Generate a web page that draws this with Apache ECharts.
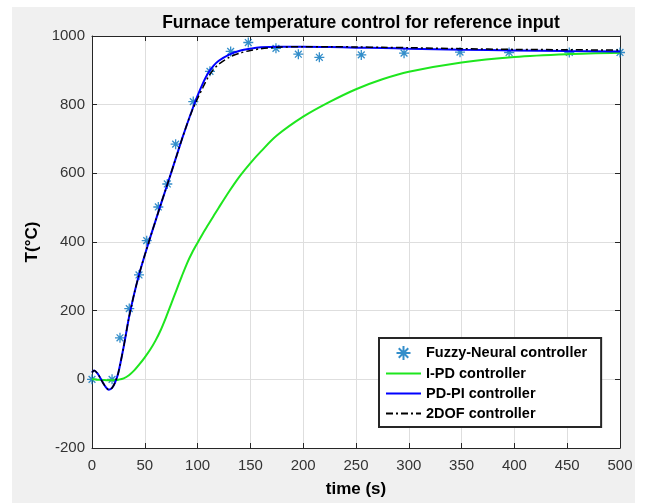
<!DOCTYPE html>
<html>
<head>
<meta charset="utf-8">
<script src="https://cdn.jsdelivr.net/npm/echarts@6/dist/echarts.min.js"></script>
<style>
  html, body { margin: 0; padding: 0; background: #fff; }
  #wrap { position: relative; width: 645px; height: 503px; }
  #panel { position: absolute; left: 12px; top: 7px; width: 623px; height: 496px; background: #f0f0f0; }
  #chart { position: absolute; left: 0; top: 0; width: 645px; height: 503px; }
</style>
</head>
<body>
<div id="wrap">
  <div id="panel"></div>
  <div id="chart"></div>
</div>
<script>
// time axis ticks
const xTicks = [0, 50, 100, 150, 200, 250, 300, 350, 400, 450, 500];
const yTicks = [-200, 0, 200, 400, 600, 800, 1000];

// Fuzzy-Neural controller (asterisks)
const fnTime = [0, 19, 26.5, 35.3, 44.5, 51.8, 62.8, 71.3, 79.2, 95.9, 111.7, 131.3, 148, 174.2, 195.4, 215.3, 255, 295.5, 348.5, 395, 452, 500];
const fnTemp = [0, 0, 121, 206, 304, 404, 502, 569, 685, 809, 897, 955, 981, 964, 947, 938, 945, 950, 953, 952, 952, 952];

// time base for the three continuous responses
const t = [0, 2, 5, 8, 12, 16, 19, 22, 25, 30, 35, 40, 45, 50, 55, 60, 65, 70, 75, 80, 85, 90, 95, 100,
  105, 110, 115, 120, 130, 140, 150, 160, 175, 200, 225, 250, 275, 300, 350, 400, 450, 500];

const ipd = [0, 0, -1, -1, -2, -3, -3, -2, -1, 3, 12, 26, 44, 64, 86, 112, 143, 180, 220, 260, 300, 338, 370, 398,
  425, 450, 475, 500, 548, 592, 630, 664, 710, 765, 808, 845, 874, 896, 923, 939, 947, 951];

const pdpi = [20, 26, 18, 3, -18, -30, -25, -8, 20, 95, 180, 250, 310, 362, 412, 460, 508, 555, 602, 650, 698, 743, 786, 826,
  862, 892, 913, 928, 946, 957, 963, 967, 969, 969, 968, 966, 965, 963, 960, 958, 956, 955];

const dof2 = [20, 26, 18, 3, -18, -30, -25, -8, 20, 95, 180, 250, 310, 362, 412, 460, 508, 555, 602, 650, 698, 743, 784, 818,
  850, 880, 902, 918, 938, 950, 958, 963, 967, 969, 969, 968, 967, 966, 963, 961, 960, 959];

const zip = (a, b) => a.map((v, i) => [v, b[i]]);

const FONT = "'Liberation Sans', Arial, Helvetica, sans-serif";
const AX = "#262626";
const GRIDC = "#dedede";
const STAR = "path://M5,0 L5,10 M0,5 L10,5 M1.6,1.6 L8.4,8.4 M1.6,8.4 L8.4,1.6";

const chart = echarts.init(document.getElementById("chart"));

const baseX = {
  type: "value",
  min: xTicks[0],
  max: xTicks[xTicks.length - 1],
  interval: xTicks[1] - xTicks[0],
  axisLine: { show: true, onZero: false, lineStyle: { color: AX, width: 1 } },
  axisTick: { show: true, inside: true, length: 5, lineStyle: { color: AX } },
};
const baseY = {
  type: "value",
  min: yTicks[0],
  max: yTicks[yTicks.length - 1],
  interval: yTicks[1] - yTicks[0],
  axisLine: { show: true, onZero: false, lineStyle: { color: AX, width: 1 } },
  axisTick: { show: true, inside: true, length: 5, lineStyle: { color: AX } },
};

const noSymbol = { opacity: 0 };

chart.setOption({
  backgroundColor: "transparent",
  animation: false,
  textStyle: { fontFamily: FONT },
  title: {
    text: "Furnace temperature control for reference input",
    left: 356,
    textAlign: "center",
    top: 9,
    textStyle: { fontFamily: FONT, fontSize: 17.5, fontWeight: "bold", color: "#000" },
  },
  grid: {
    left: 92,
    right: 25,
    top: 36,
    bottom: 52,
    show: true,
    backgroundColor: "#fff",
    borderWidth: 0,
  },
  xAxis: [
    Object.assign({}, baseX, {
      position: "bottom",
      name: "time (s)",
      nameLocation: "middle",
      nameGap: 33,
      nameTextStyle: { fontFamily: FONT, fontSize: 17, fontWeight: "bold", color: "#000" },
      axisLabel: { fontFamily: FONT, fontSize: 15, color: "#333", margin: 10, formatter: (v) => String(v) },
      splitLine: { show: true, lineStyle: { color: GRIDC, width: 1 } },
    }),
    Object.assign({}, baseX, {
      position: "top",
      axisLabel: { show: false },
      splitLine: { show: false },
    }),
  ],
  yAxis: [
    Object.assign({}, baseY, {
      position: "left",
      name: "T(°C)",
      nameLocation: "middle",
      nameGap: 50,
      nameTextStyle: { fontFamily: FONT, fontSize: 17, fontWeight: "bold", color: "#000" },
      axisLabel: { fontFamily: FONT, fontSize: 15, color: "#333", margin: 7, formatter: (v) => String(v) },
      splitLine: { show: true, lineStyle: { color: GRIDC, width: 1 } },
    }),
    Object.assign({}, baseY, {
      position: "right",
      axisLabel: { show: false },
      splitLine: { show: false },
    }),
  ],
  legend: {
    orient: "vertical",
    left: 379,
    top: 338,
    padding: [7, 14, 6, 6],
    itemWidth: 35,
    itemHeight: 14,
    itemGap: 5,
    backgroundColor: "#fff",
    borderColor: "#262626",
    borderWidth: 2,
    borderRadius: 0,
    textStyle: { fontFamily: FONT, fontSize: 14.5, fontWeight: "bold", color: "#000" },
    data: [
      { name: "Fuzzy-Neural controller" },
      { name: "I-PD controller", itemStyle: noSymbol },
      { name: "PD-PI controller", itemStyle: noSymbol },
      { name: "2DOF controller", itemStyle: noSymbol },
    ],
  },
  series: [
    {
      name: "Fuzzy-Neural controller",
      type: "scatter",
      data: zip(fnTime, fnTemp),
      symbol: STAR,
      symbolSize: 10,
      symbolKeepAspect: true,
      clip: false,
      itemStyle: { color: "rgba(0,0,0,0)", borderColor: "#0072BD", borderWidth: 1.3 },
      z: 2,
    },
    {
      name: "I-PD controller",
      type: "line",
      data: zip(t, ipd),
      symbol: "none",
      smooth: 0.3,
      lineStyle: { color: "#1ee61e", width: 2 },
      itemStyle: { color: "#1ee61e" },
      z: 3,
    },
    {
      name: "PD-PI controller",
      type: "line",
      data: zip(t, pdpi),
      symbol: "none",
      smooth: 0.3,
      lineStyle: { color: "#0000ff", width: 2 },
      itemStyle: { color: "#0000ff" },
      z: 4,
    },
    {
      name: "2DOF controller",
      type: "line",
      data: zip(t, dof2),
      symbol: "none",
      smooth: 0.3,
      lineStyle: { color: "#000", width: 1.5, type: [7, 3, 2, 3] },
      itemStyle: { color: "#000" },
      z: 5,
    },
  ],
});
</script>
</body>
</html>
